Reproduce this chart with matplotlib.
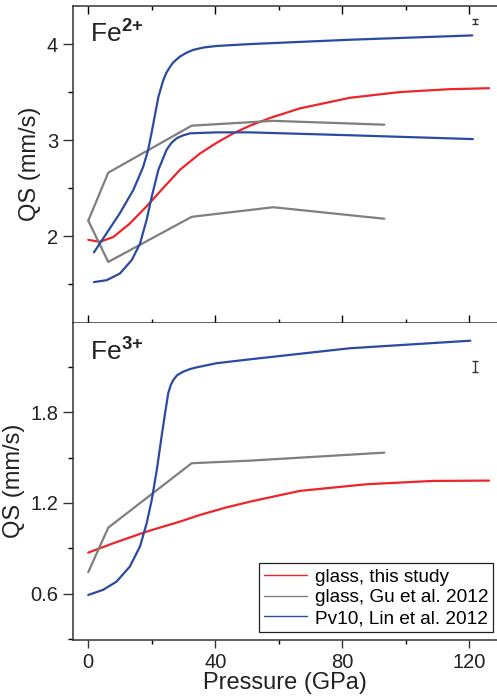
import matplotlib
matplotlib.use("Agg")
from matplotlib import pyplot as plt
from matplotlib.ticker import MultipleLocator

plt.rcParams["font.family"] = ["Liberation Sans", "DejaVu Sans"]
plt.rcParams["mathtext.fontset"] = "custom"
plt.rcParams["mathtext.rm"] = "Liberation Sans"
plt.rcParams["mathtext.bf"] = "Liberation Sans:bold"

RED = "#ee2428"
BLUE = "#2a4b9f"
GRAY = "#7f7f7f"

# Fe2+ panel
red2_p = [0, 3.7, 7.9, 13.1, 18.4, 23.6, 28.9, 35.2, 40.4, 45.7, 51.0, 57.3, 66.7, 82.4, 98.2, 114.0, 126.3]
red2_qs = [1.96, 1.94, 1.99, 2.13, 2.31, 2.50, 2.69, 2.86, 2.97, 3.07, 3.15, 3.23, 3.33, 3.44, 3.50, 3.53, 3.54]

gray2a_p = [0, 6.3, 32.6, 58.3, 93.3]
gray2a_qs = [2.16, 2.66, 3.15, 3.20, 3.16]
gray2b_p = [0, 6.3, 32.6, 58.3, 93.3]
gray2b_qs = [2.16, 1.73, 2.20, 2.30, 2.18]

blue2a_p = [1.8, 5.8, 10.0, 14.2, 17.3, 18.9, 20.5, 22.1, 23.6, 24.6, 25.7, 26.8, 28.9, 31.0, 33.1, 36.5, 40.4, 51.0, 82.4, 121.0]
blue2a_qs = [1.83, 2.03, 2.24, 2.48, 2.72, 2.90, 3.17, 3.45, 3.62, 3.70, 3.76, 3.81, 3.87, 3.91, 3.94, 3.965, 3.98, 4.00, 4.045, 4.09]
blue2b_p = [1.8, 5.8, 10.0, 13.7, 16.3, 18.4, 20.0, 22.1, 24.7, 26.2, 27.9, 30.0, 32.1, 40.4, 51.0, 82.4, 121.2]
blue2b_qs = [1.52, 1.54, 1.61, 1.75, 1.92, 2.17, 2.41, 2.69, 2.90, 2.97, 3.02, 3.05, 3.07, 3.08, 3.08, 3.05, 3.01]

# Fe3+ panel
red3_p = [0, 7.9, 18.4, 28.9, 35.2, 43.0, 51.0, 66.7, 87.7, 108.7, 126.3]
red3_qs = [0.872, 0.934, 1.011, 1.077, 1.121, 1.168, 1.209, 1.280, 1.324, 1.346, 1.348]

gray3_p = [0, 6.3, 32.6, 51.0, 93.3]
gray3_qs = [0.743, 1.037, 1.463, 1.480, 1.533]

blue3_p = [0, 4.7, 8.9, 13.1, 16.3, 18.4, 20.0, 21.6, 23.1, 24.2, 25.2, 26.0, 26.8, 28.0, 29.9, 32.0, 34.2, 40.4, 51.0, 82.4, 120.4]
blue3_qs = [0.592, 0.626, 0.680, 0.780, 0.912, 1.066, 1.220, 1.419, 1.639, 1.793, 1.926, 1.980, 2.013, 2.045, 2.068, 2.085, 2.097, 2.124, 2.150, 2.223, 2.273]

# representative error bars
err2_p, err2_qs, err2_e = [121.8], [4.24], [0.026]
err3_p, err3_qs, err3_e = [121.8], [2.10], [0.036]

fig = plt.figure(figsize=(4.97, 7.0), dpi=100)
ax1 = fig.add_axes([0.1463, 0.539, 0.8537, 0.4529])
ax2 = fig.add_axes([0.1463, 0.0861, 0.8537, 0.4529])

lw = 1.6
kw = dict(lw=lw, solid_joinstyle="round", solid_capstyle="round")
ax1.plot(red2_p, red2_qs, color=RED, **kw)
ax1.plot(gray2a_p, gray2a_qs, color=GRAY, **kw)
ax1.plot(gray2b_p, gray2b_qs, color=GRAY, **kw)
ax1.plot(blue2a_p, blue2a_qs, color=BLUE, **kw)
ax1.plot(blue2b_p, blue2b_qs, color=BLUE, **kw)
ax1.errorbar(err2_p, err2_qs, yerr=err2_e, color="#333333", lw=1, capsize=2)

ax2.plot(red3_p, red3_qs, color=RED, label="glass, this study", **kw)
ax2.plot(gray3_p, gray3_qs, color=GRAY, label="glass, Gu et al. 2012", **kw)
ax2.plot(blue3_p, blue3_qs, color=BLUE, label="Pv10, Lin et al. 2012", **kw)
ax2.errorbar(err3_p, err3_qs, yerr=err3_e, color="#333333", lw=1, capsize=2)

for ax in (ax1, ax2):
    ax.set_xlim(-4.9, 128.8)
    ax.xaxis.set_major_locator(MultipleLocator(40))
    ax.xaxis.set_minor_locator(MultipleLocator(20))
    ax.spines["right"].set_visible(False)
    for s in ax.spines.values():
        s.set_linewidth(1.1)
        s.set_color("#333333")
    ax.tick_params(axis="y", which="major", direction="out", length=7, width=1, labelsize=14.5,
                   colors="#333333", labelcolor="#222222", right=False)
    ax.tick_params(axis="y", which="minor", direction="out", length=3.5, width=1, right=False)
    ax.set_ylabel("QS (mm/s)", fontsize=17, color="#222222", labelpad=4)

ax1.set_ylim(1.097, 4.40)
ax1.yaxis.set_major_locator(MultipleLocator(1))
ax1.yaxis.set_minor_locator(MultipleLocator(0.5))
ax1.tick_params(axis="x", which="major", direction="in", length=6, width=1, top=True, labelbottom=False)
ax1.tick_params(axis="x", which="minor", direction="in", length=3, width=1, top=True)
ax1.text(0.04, 0.886, r"Fe$^{\mathbf{2{+}}}$", transform=ax1.transAxes, fontsize=19, color="#222222")

ax2.set_ylim(0.296, 2.392)
ax2.yaxis.set_major_locator(MultipleLocator(0.6))
ax2.yaxis.set_minor_locator(MultipleLocator(0.3))
ax2.tick_params(axis="x", which="major", direction="out", length=6, width=1, top=False,
                labelsize=14.5, colors="#333333", labelcolor="#222222")
ax2.tick_params(axis="x", which="minor", direction="out", length=3, width=1, top=False)
ax2.spines["top"].set_visible(False)
ax2.set_xlabel("Pressure (GPa)", fontsize=17, color="#222222", labelpad=0)
ax2.text(0.04, 0.885, r"Fe$^{\mathbf{3{+}}}$", transform=ax2.transAxes, fontsize=19, color="#222222")

leg = ax2.legend(loc="lower right", bbox_to_anchor=(0.991, 0.025), borderaxespad=0,
                 fontsize=13.7, handlelength=2.3, handletextpad=0.4, labelspacing=0.18,
                 borderpad=0.25, fancybox=False, framealpha=1)
leg.get_frame().set_edgecolor("#222222")
leg.get_frame().set_linewidth(0.9)
for h in leg.get_lines():
    h.set_linewidth(1.0)

fig.savefig("out.png", dpi=100)
